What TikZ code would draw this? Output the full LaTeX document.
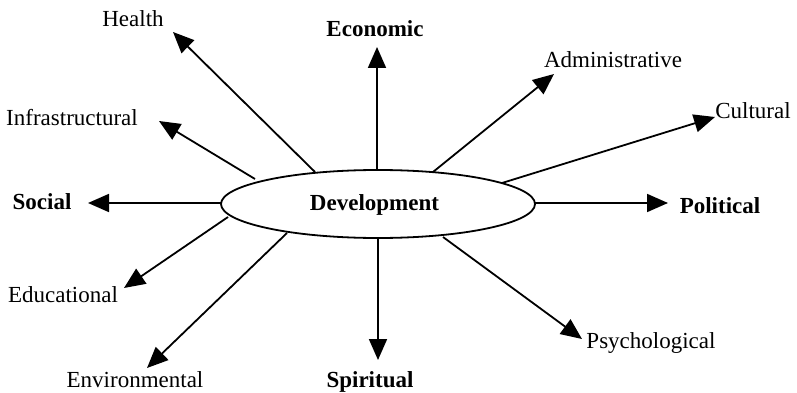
\documentclass[tikz,border=0pt]{standalone}
\usepackage{fontspec}
\setmainfont{Liberation Serif}
\usetikzlibrary{arrows.meta,shapes.geometric}
\begin{document}
\begin{tikzpicture}[x=1pt,y=-1pt,
  lbl/.style={anchor=base,inner sep=0pt,font=\fontsize{23}{27}\selectfont},
  blbl/.style={lbl,font=\fontsize{23}{27}\selectfont\bfseries},
  spoke/.style={line width=1.8pt,-{Triangle[length=21pt,width=18pt]}}]
\useasboundingbox (0,0) rectangle (797,393);
% central ellipse
\node[ellipse,draw,line width=1.8pt,minimum width=314pt,minimum height=68pt,inner sep=0pt] (dev) at (378,204) {};
\node[blbl] (devt) at (374.5,210) {Development};
% labels
\node[lbl]  (health) at (133,27)  {Health};
\node[blbl] (econ)   at (375,37)  {Economic};
\node[lbl]  (admin)  at (613,68)  {Administrative};
\node[lbl]  (cult)   at (753,119) {Cultural};
\node[blbl] (pol)    at (720,213) {Political};
\node[lbl]  (psy)    at (651,348) {Psychological};
\node[blbl] (spir)   at (370,387) {Spiritual};
\node[lbl]  (env)    at (135,387) {Environmental};
\node[lbl]  (edu)    at (63,302)  {Educational};
\node[blbl] (soc)    at (42,209)  {Social};
\node[lbl]  (infra)  at (72,125)  {Infrastructural};
% spoke end points
\coordinate (s1) at (315,172);  \coordinate (t1) at (173,32);
\coordinate (s2) at (377,170);  \coordinate (t2) at (377,47);
\coordinate (s3) at (433,172);  \coordinate (t3) at (554,74);
\coordinate (s4) at (502,183);  \coordinate (t4) at (715,117);
\coordinate (s5) at (535,203);  \coordinate (t5) at (668,203);
\coordinate (s6) at (443,237);  \coordinate (t6) at (582,339);
\coordinate (s7) at (378,238);  \coordinate (t7) at (378,360);
\coordinate (s8) at (287,233);  \coordinate (t8) at (147,368);
\coordinate (s9) at (228,217);  \coordinate (t9) at (124,288);
\coordinate (s10) at (221,203); \coordinate (t10) at (88,203);
\coordinate (s11) at (255,179); \coordinate (t11) at (159,121);
\foreach \i in {1,...,11} \draw[spoke] (s\i) -- (t\i);
\end{tikzpicture}
\end{document}
